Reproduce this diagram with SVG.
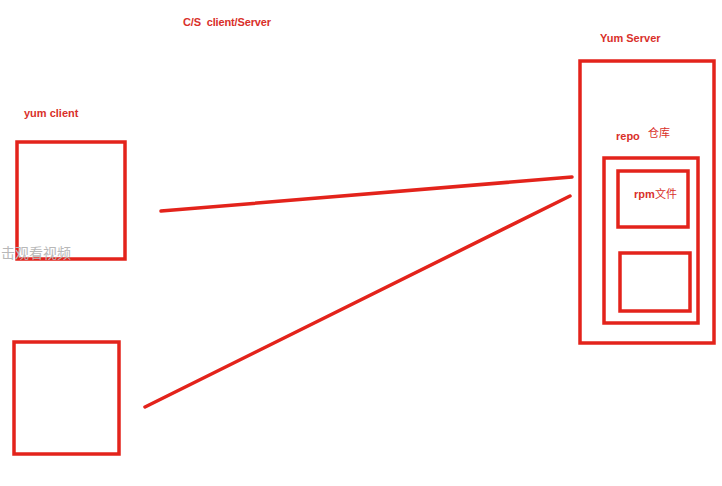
<svg xmlns="http://www.w3.org/2000/svg" width="722" height="486" viewBox="0 0 722 486">
<style>
.b{fill:none;stroke:#e3231b;stroke-width:3.5}
.l{stroke:#e3231b;stroke-width:3.5;stroke-linecap:round}
.t{font-family:"Liberation Sans",Arial,sans-serif;font-weight:bold;font-size:11px;fill:#d9302a;white-space:pre}
.c{font-family:"Noto Sans CJK SC",sans-serif;font-size:11px;fill:#d9302a}
.w{font-family:"Noto Sans CJK SC",sans-serif;font-size:14px;fill:#b8b8b8}
</style>
<rect width="722" height="486" fill="#fff"/>
<text class="t" x="183" y="26" xml:space="preserve" textLength="88">C/S  client/Server</text>
<g id="client1">
<text class="t" x="24" y="117">yum client</text>
<rect class="b" x="17" y="142" width="108" height="117"/>
</g>
<g id="client2">
<rect class="b" x="14" y="342" width="105" height="112"/>
</g>
<g id="server">
<text class="t" x="600" y="42">Yum Server</text>
<rect class="b" x="580" y="61" width="134" height="282"/>
</g>
<g id="repo">
<text class="t" x="616" y="140">repo</text>
<text class="c" x="648" y="137">仓库</text>
<rect class="b" x="604" y="158" width="94" height="165"/>
</g>
<g id="rpm">
<rect class="b" x="618" y="171" width="70" height="56"/>
<text class="t" x="634" y="198">rpm</text><text class="c" x="655" y="198">文件</text>
</g>
<g id="rpm2">
<rect class="b" x="620" y="253" width="70" height="58"/>
</g>
<g id="connectors">
<line class="l" x1="161" y1="211" x2="572" y2="177"/>
<line class="l" x1="145" y1="407" x2="570" y2="196"/>
</g>
<text class="w" x="1" y="258">击观看视频</text>
</svg>
